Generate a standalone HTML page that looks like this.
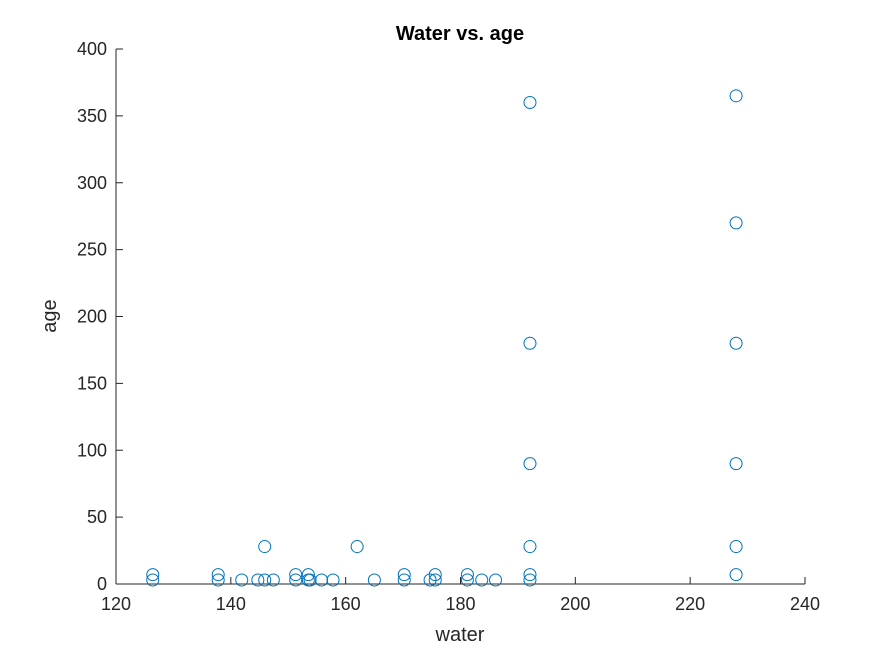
<!DOCTYPE html>
<html><head><meta charset="utf-8"><style>
body{margin:0;background:#fff;}
text{font-family:"Liberation Sans",sans-serif;fill:#262626;}
</style></head><body>
<svg id="chart" width="891" height="656" xmlns="http://www.w3.org/2000/svg">
<rect width="891" height="656" fill="#fff"/>
<text x="460" y="40" text-anchor="middle" font-size="20" font-weight="bold" style="fill:#000">Water vs. age</text>
<g id="axes"></g>
<g id="pts"></g>
<text x="460" y="641" text-anchor="middle" font-size="20">water</text>
<text transform="translate(56,316) rotate(-90)" text-anchor="middle" font-size="20">age</text>
</svg>
<script>
const water=[126.4,126.4,137.8,137.8,141.9,144.7,145.9,145.9,147.4,151.3,151.3,153.5,153.5,153.8,155.8,157.8,162,165,170.2,170.2,174.7,175.6,175.6,181.2,181.2,183.7,186.1,192.1,192.1,192.1,192.1,192.1,192.1,228,228,228,228,228,228];
const age=[7,3,7,3,3,3,3,28,3,7,3,7,3,3,3,3,28,3,7,3,3,7,3,7,3,3,3,3,7,28,90,180,360,7,28,90,180,270,365];
const xTicks=[120,140,160,180,200,220,240];
const yTicks=[0,50,100,150,200,250,300,350,400];
const NS="http://www.w3.org/2000/svg";
const x=v=>116+(v-120)*(689/120);
const y=v=>584-v*(535/400);
const ax=document.getElementById('axes');
function mk(t,a,p){const e=document.createElementNS(NS,t);for(const k in a)e.setAttribute(k,a[k]);p.appendChild(e);return e;}
const xl=mk('line',{x1:116,y1:584,x2:805,y2:584,stroke:'#262626'},ax);


const yl=mk('line',{x1:116,y1:49,x2:116,y2:584,stroke:'#262626'},ax);


xTicks.forEach(t=>{mk('line',{x1:x(t),y1:584,x2:x(t),y2:577,stroke:'#262626'},ax);
const tx=mk('text',{x:x(t),y:610,'text-anchor':'middle','font-size':18},ax);tx.textContent=t;

});
yTicks.forEach(t=>{mk('line',{x1:116,y1:y(t),x2:123,y2:y(t),stroke:'#262626'},ax);
const tx=mk('text',{x:107,y:y(t)+6,'text-anchor':'end','font-size':18},ax);tx.textContent=t;

});
const pg=document.getElementById('pts');
water.forEach((w,i)=>{const c=mk('circle',{cx:x(w),cy:y(age[i]),r:6,fill:'none',stroke:'#0072bd','stroke-width':1},pg);

});
</script>
</body></html>
